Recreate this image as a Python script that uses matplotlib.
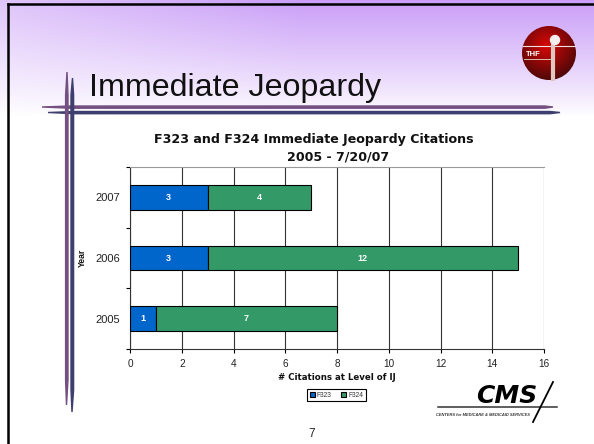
from matplotlib import pyplot as plt
from matplotlib.patches import Circle, Polygon
import numpy as np

plt.rcParams['font.family'] = ['Liberation Sans', 'DejaVu Sans']

years = ['2005', '2006', '2007']
f323 = [1, 3, 3]
f324 = [7, 12, 4]
x_ticks = [0, 2, 4, 6, 8, 10, 12, 14, 16]

W, H = 594, 444
fig = plt.figure(figsize=(W / 100, H / 100), dpi=100, facecolor='white')

# slide background, pixel coordinates
bg = fig.add_axes([0, 0, 1, 1])
bg.axis('off')

# purple gradient fading to white above the title rule
yy, xx = np.mgrid[0:116, 0:W]
fade = (1 - yy / 116.0) ** 0.9 * (0.6 + 0.4 * np.clip(xx / 300.0, 0, 1))
grad = np.ones((116, W, 3))
grad[..., 0] = 1 - fade * (1 - 0.79)
grad[..., 1] = 1 - fade * (1 - 0.62)
grad[..., 2] = 1 - fade * (1 - 0.97)
bg.imshow(grad, extent=[0, W, 116, 0], aspect='auto', zorder=0)

# slide frame
bg.plot([7.5, 7.5], [4.5, H], color='black', lw=1.8, zorder=5)
bg.plot([7.5, W], [4.5, 4.5], color='black', lw=1.8, zorder=5)

# crossed rules
bg.add_patch(Polygon([[42, 107], [70, 106], [545, 106], [553, 107], [545, 108.2], [70, 108.2]], color='#73507f', zorder=2))
bg.add_patch(Polygon([[48, 112.5], [75, 111.5], [550, 111.5], [560, 112.5], [550, 113.7], [75, 113.7]], color='#3d3f6e', zorder=2))
bg.add_patch(Polygon([[67, 72], [68, 95], [68, 380], [66.5, 405], [65.6, 380], [65.6, 95]], color='#73507f', zorder=2))
bg.add_patch(Polygon([[72.5, 78], [73.6, 95], [73.6, 390], [72, 412], [71, 390], [71, 95]], color='#3d3f6e', zorder=2))

bg.text(89, 96, 'Immediate Jeopardy', fontsize=23.2, color='#111111', va='baseline', ha='left', zorder=3)

# THF logo
cx, cy, r = 549, 53, 27
ly, lx = np.mgrid[cy - r:cy + r, cx - r:cx + r]
d = np.hypot(lx - cx + 3, ly - cy + 8) / (r * 1.3)
logo = np.zeros(lx.shape + (3,))
logo[..., 0] = np.clip(0.85 - 0.55 * d, 0.2, 1)
logo[..., 1] = 0.03
logo[..., 2] = 0.03
im = bg.imshow(logo, extent=[cx - r, cx + r, cy + r, cy - r], aspect='auto', zorder=3)
im.set_clip_path(Circle((cx, cy), r, transform=bg.transData))
bg.plot([cx - r + 1, cx + r - 1], [46, 46], color='#f0e0e0', lw=0.8, zorder=4)
bg.plot([cx - r + 2, cx + 2], [59, 59], color='#e8d8c8', lw=0.6, zorder=4)
bg.plot([cx + 4, cx + 4], [44, 79], color='#e0c8c0', lw=3, zorder=4)
bg.add_patch(Circle((cx + 6, 40), 4.5, color='#f5eeee', zorder=4))
bg.text(cx - 16, 54.5, 'THF', fontsize=5.5, color='white', fontweight='bold', ha='center', va='center', zorder=5)

# CMS logo
bg.text(507, 403, 'CMS', fontsize=18, fontweight='bold', style='italic', family='DejaVu Sans', color='black', ha='center', va='baseline', zorder=3)
bg.plot([438, 557], [407, 407], color='#333333', lw=1.1, zorder=3)
bg.plot([533, 553], [422, 382], color='black', lw=1.3, zorder=3)
bg.text(436, 415, 'CENTERS for MEDICARE & MEDICAID SERVICES', fontsize=2.9, fontweight='bold', style='italic', color='#333333', ha='left', va='center', zorder=3)

# page number
bg.text(312, 434, '7', fontsize=8.5, color='#222222', ha='center', va='center', zorder=3)

bg.set_xlim(0, W)
bg.set_ylim(H, 0)

# chart, plot area pixels 130-544 x 167-349
ax = fig.add_axes([130 / W, 1 - 349 / H, 414 / W, 182 / H])
ax.patch.set_alpha(0)
y = np.arange(len(years))
ax.barh(y, f323, height=0.41, color='#0066CC', edgecolor='black', linewidth=0.8, label='F323', zorder=3)
ax.barh(y, f324, left=f323, height=0.41, color='#339966', edgecolor='black', linewidth=0.8, label='F324', zorder=3)

for i in range(len(years)):
    ax.text(f323[i] / 2, y[i], str(f323[i]), color='white', fontsize=6.5, fontweight='bold', ha='center', va='center', zorder=4)
    ax.text(f323[i] + f324[i] / 2, y[i], str(f324[i]), color='white', fontsize=6.5, fontweight='bold', ha='center', va='center', zorder=4)

ax.set_xlim(0, 16)
ax.set_ylim(-0.5, 2.5)
ax.set_xticks(x_ticks)
ax.tick_params(axis='x', labelsize=7.2, labelcolor='#222222', length=3, width=0.8, pad=4, direction='out')
ax.set_yticks(y)
ax.set_yticklabels(years)
ax.tick_params(axis='y', which='major', labelsize=8, labelcolor='#222222', length=0, pad=7)
ax.set_yticks([-0.5, 0.5, 1.5, 2.5], minor=True)
ax.tick_params(axis='y', which='minor', length=3, width=0.8, direction='out')
ax.grid(axis='x', color='#333333', lw=0.8, zorder=1)
ax.set_axisbelow(True)
ax.spines['right'].set_visible(False)
ax.spines['top'].set_color('#999999')
ax.spines['top'].set_linewidth(0.8)
ax.spines['left'].set_color('#333333')
ax.spines['bottom'].set_color('#333333')

# stretched look of the source text, DejaVu bold is the closest width
fig.text(314 / W, 1 - 143 / H, 'F323 and F324 Immediate Jeopardy Citations', fontsize=9.1, fontweight='bold',
         family='DejaVu Sans', color='#111111', ha='center', va='baseline')
fig.text(338 / W, 1 - 160 / H, '2005 - 7/20/07', fontsize=9.1, fontweight='bold',
         family='DejaVu Sans', color='#111111', ha='center', va='baseline')
fig.text(337 / W, 1 - 377 / H, '# Citations at Level of IJ', fontsize=6.2, fontweight='bold', family='DejaVu Sans', color='#111111', ha='center', va='center')
fig.text(82 / W, 1 - 258 / H, 'Year', fontsize=6.2, fontweight='bold', color='#111111', rotation=90, ha='center', va='center')

leg = ax.legend(loc='center', bbox_to_anchor=(336.5 / W, 1 - 395 / H), bbox_transform=fig.transFigure, ncol=2,
                fontsize=4.8, frameon=True, fancybox=False, framealpha=1, edgecolor='black', handlelength=0.8,
                handleheight=0.8, handletextpad=0.3, columnspacing=1.4, borderpad=0.35, labelcolor='#333333')
leg.get_frame().set_linewidth(0.8)

fig.savefig('out.png', dpi=100)
